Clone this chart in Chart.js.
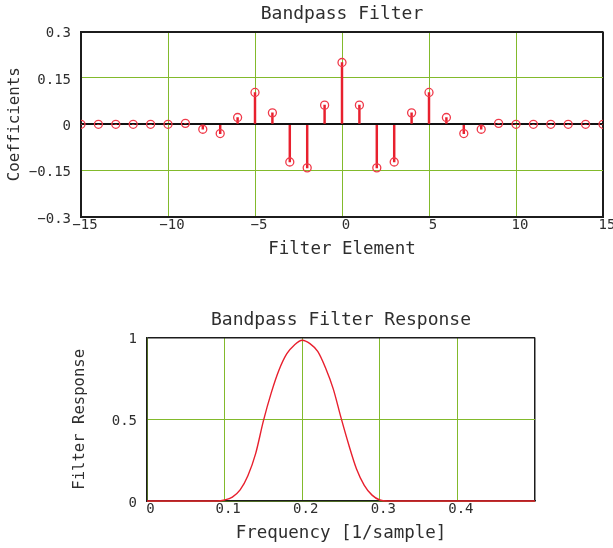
<!DOCTYPE html>
<html><head><meta charset="utf-8">
<script src="https://cdn.jsdelivr.net/npm/chart.js@4"></script>
<style>
html,body{margin:0;padding:0;background:#fff;overflow:hidden;}
#w1{position:absolute;left:0;top:0;width:613px;height:270px;}
#w2{position:absolute;left:0;top:290px;width:613px;height:258px;}
</style></head><body>
<div id="w1"><canvas id="c1"></canvas></div>
<div id="w2"><canvas id="c2"></canvas></div>
<script>
// ---- Top chart data: filter coefficients ----
const filterElements = [-15,-14,-13,-12,-11,-10,-9,-8,-7,-6,-5,-4,-3,-2,-1,0,1,2,3,4,5,6,7,8,9,10,11,12,13,14,15];
const coefficients   = [0,0,0,0,0,0,0.003,-0.016,-0.030,0.022,0.103,0.037,-0.122,-0.141,0.062,0.200,0.062,-0.141,-0.122,0.037,0.103,0.022,-0.030,-0.016,0.003,0,0,0,0,0,0];
const topXTicks      = [-15,-10,-5,0,5,10,15];
const topXTickLabels = ['\u221215','\u221210','\u22125','0','5','10','15'];
const topYTicks      = [-0.3,-0.15,0,0.15,0.3];
const topYTickLabels = ['\u22120.3','\u22120.15','0','0.15','0.3'];

// ---- Bottom chart data: frequency response ----
const frequencies = [0,0.09,0.10,0.11,0.12,0.13,0.14,0.15,0.16,0.17,0.18,0.19,0.20,0.21,0.22,0.23,0.24,0.25,0.26,0.27,0.28,0.29,0.30,0.31,0.5];
const response    = [0,0,0.006,0.024,0.068,0.155,0.29,0.49,0.66,0.80,0.90,0.955,0.984,0.963,0.915,0.815,0.686,0.51,0.344,0.196,0.096,0.036,0.006,0,0];
const botXTicks      = [0,0.1,0.2,0.3,0.4,0.5];
const botXTickLabels = ['0','0.1','0.2','0.3','0.4',''];
const botYTicks      = [0,0.5,1];
const botYTickLabels = ['0','0.5','1'];

const FONT = "'DejaVu Sans Mono', 'Liberation Mono', monospace";
const TXT = '#2e2e2e';
const GREEN = '#82ba2c';
const EDGE = '#1c1c1c';
const RED = '#e8202e';
const RED2 = '#f03a4a';

Chart.defaults.font.family = FONT;
Chart.defaults.color = TXT;

function setTicks(arr){ return function(scale){ scale.ticks = arr.map(v => ({value: v})); }; }

new Chart(document.getElementById('c1'), {
  type: 'bar',
  data: {
    datasets: [
      {
        type: 'line',
        data: filterElements.map((x, i) => ({x: x, y: coefficients[i]})),
        showLine: false,
        pointRadius: 4,
        pointBorderWidth: 1.3,
        pointBorderColor: RED2,
        pointBackgroundColor: 'rgba(0,0,0,0)',
        order: 1
      },
      {
        type: 'bar',
        data: filterElements.map((x, i) => ({x: x, y: coefficients[i]})),
        backgroundColor: RED,
        borderWidth: 0,
        barThickness: 1.8,
        order: 2
      }
    ]
  },
  options: {
    responsive: true, maintainAspectRatio: false, animation: false, devicePixelRatio: 1,
    layout: {padding: {left: 0, right: 10, top: 0, bottom: 0}},
    plugins: {
      legend: {display: false}, tooltip: {enabled: false},
      title: {display: true, fullSize: false, text: 'Bandpass Filter', color: TXT,
              font: {family: FONT, size: 18, weight: 'normal'}, padding: {top: 4, bottom: 6}}
    },
    scales: {
      x: {
        type: 'linear', min: -15, max: 15, offset: false,
        afterBuildTicks: setTicks(topXTicks),
        afterFit: s => { s.height = 53; },
        ticks: {callback: (v, i) => topXTickLabels[i], autoSkip: false, maxRotation: 0,
                padding: 0, labelOffset: 4, font: {size: 14}, color: TXT},
        grid: {offset: false, drawTicks: false,
               color: c => (c.tick && Math.abs(c.tick.value) === 15) ? EDGE : GREEN,
               lineWidth: c => (c.tick && Math.abs(c.tick.value) === 15) ? 2 : 1},
        border: {display: true, color: EDGE, width: 2},
        title: {display: true, text: 'Filter Element', color: TXT,
                font: {size: 17.5}, padding: {top: 0, bottom: 10}}
      },
      y: {
        type: 'linear', min: -0.3, max: 0.3,
        afterBuildTicks: setTicks(topYTicks),
        afterFit: s => { s.width = 81; },
        ticks: {callback: (v, i) => topYTickLabels[i], padding: 10, labelOffset: 2,
                font: {size: 14}, color: TXT},
        grid: {drawTicks: false,
               color: c => {
                 if (!c.tick) return GREEN;
                 if (c.tick.value === 0) return '#111';
                 if (Math.abs(c.tick.value) === 0.3) return EDGE;
                 return GREEN; },
               lineWidth: c => (c.tick && (c.tick.value === 0 || Math.abs(c.tick.value) === 0.3)) ? 2 : 1},
        border: {display: true, color: EDGE, width: 2},
        title: {display: true, text: 'Coefficients', color: TXT,
                font: {size: 15.8}, padding: {top: 5, bottom: 0}}
      }
    }
  }
});

new Chart(document.getElementById('c2'), {
  type: 'line',
  data: {
    datasets: [{
      data: frequencies.map((f, i) => ({x: f, y: response[i]})),
      borderColor: RED,
      borderWidth: 1.4,
      pointRadius: 0,
      fill: false,
      cubicInterpolationMode: 'monotone',
      clip: 4
    }]
  },
  options: {
    responsive: true, maintainAspectRatio: false, animation: false, devicePixelRatio: 1,
    layout: {padding: {left: 0, right: 78, top: 0, bottom: 0}},
    plugins: {
      legend: {display: false}, tooltip: {enabled: false},
      title: {display: true, fullSize: false, text: 'Bandpass Filter Response', color: TXT,
              font: {family: FONT, size: 18, weight: 'normal'}, padding: {top: 20, bottom: 6}}
    },
    scales: {
      x: {
        type: 'linear', min: 0, max: 0.5,
        afterBuildTicks: setTicks(botXTicks),
        afterFit: s => { s.height = 47; },
        ticks: {callback: (v, i) => botXTickLabels[i], autoSkip: false, maxRotation: 0,
                padding: 0, labelOffset: 3.5, font: {size: 14}, color: TXT},
        grid: {drawTicks: false,
               color: c => (c.tick && c.tick.value === 0.5) ? EDGE : GREEN,
               lineWidth: c => (c.tick && c.tick.value === 0.5) ? 1.5 : 1},
        border: {display: true, color: EDGE, width: 1.5},
        title: {display: true, text: 'Frequency [1/sample]', color: TXT,
                font: {size: 17.5}, padding: {top: 0, bottom: 4}}
      },
      y: {
        type: 'linear', min: 0, max: 1,
        afterBuildTicks: setTicks(botYTicks),
        afterFit: s => { s.width = 147; },
        ticks: {callback: (v, i) => botYTickLabels[i], padding: 10, labelOffset: 2,
                font: {size: 14}, color: TXT},
        grid: {drawTicks: false,
               color: c => (c.tick && c.tick.value === 1) ? EDGE : GREEN,
               lineWidth: c => (c.tick && c.tick.value === 1) ? 1.5 : 1},
        border: {display: true, color: EDGE, width: 1.5},
        title: {display: true, text: 'Filter Response', color: TXT,
                font: {size: 15.6}, padding: {top: 71, bottom: 0}}
      }
    }
  }
});
</script>
</body></html>
